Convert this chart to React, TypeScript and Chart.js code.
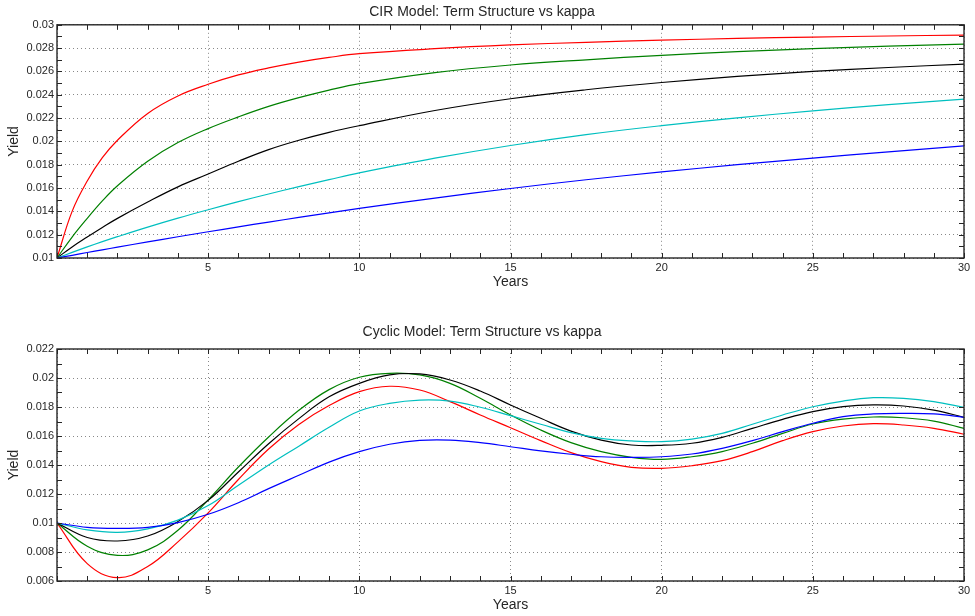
import React, { useEffect, useRef } from "react";
import { Chart, registerables } from "chart.js";

Chart.register(...registerables);

// ---------- Data ----------
const CIR_TITLE = "CIR Model: Term Structure vs kappa";
const CYC_TITLE = "Cyclic Model: Term Structure vs kappa";
const X_LABEL = "Years";
const Y_LABEL = "Yield";

const X_TICKS = [0, 5, 10, 15, 20, 25, 30];
const Y_TICKS_CIR = [0.01, 0.012, 0.014, 0.016, 0.018, 0.02, 0.022, 0.024, 0.026, 0.028, 0.03];
const Y_TICKS_CYC = [0.006, 0.008, 0.01, 0.012, 0.014, 0.016, 0.018, 0.02, 0.022];

const CIR_T = [0, 0.5, 1, 1.5, 2, 3, 4, 5, 6, 7, 8, 9, 10, 12.5, 15, 17.5, 20, 22.5, 25, 27.5, 30];
const CIR_RED = [0.01, 0.014, 0.0166, 0.0186, 0.0201, 0.0224, 0.0239, 0.0249, 0.0257, 0.0263, 0.0268, 0.0272, 0.02752, 0.02795, 0.02827, 0.0285, 0.02868, 0.02883, 0.02895, 0.02904, 0.02912];
const CIR_GREEN = [0.01, 0.0118, 0.0134, 0.0149, 0.0162, 0.0183, 0.0199, 0.0211, 0.0221, 0.023, 0.02375, 0.0244, 0.02495, 0.0259, 0.02655, 0.027, 0.02738, 0.0277, 0.02795, 0.02817, 0.02835];
const CIR_BLACK = [0.01, 0.01095, 0.0118, 0.01262, 0.0134, 0.0148, 0.0161, 0.0172, 0.0183, 0.0193, 0.0201, 0.02078, 0.02135, 0.02265, 0.02366, 0.02443, 0.02505, 0.02557, 0.026, 0.02634, 0.02663];
const CIR_CYAN = [0.01, 0.01048, 0.01095, 0.0114, 0.01183, 0.01265, 0.01342, 0.01414, 0.01483, 0.01549, 0.01612, 0.01672, 0.0173, 0.01856, 0.01965, 0.02058, 0.02135, 0.02202, 0.02262, 0.02315, 0.02363];
const CIR_BLUE = [0.01, 0.01023, 0.01047, 0.0107, 0.01093, 0.01138, 0.01182, 0.01225, 0.01267, 0.01308, 0.01348, 0.01387, 0.01425, 0.01514, 0.01596, 0.01671, 0.01738, 0.018, 0.01857, 0.0191, 0.01962];

const CYC_T = [0, 1, 2, 3, 4, 5, 6, 7, 8, 9, 10, 11, 12, 13, 14, 15, 16, 17, 18, 19, 20, 21, 22, 23, 24, 25, 26, 27, 28, 29, 30];
const CYC_RED = [0.01, 0.0072, 0.00623, 0.007, 0.0087, 0.0107, 0.013, 0.0151, 0.0168, 0.0181, 0.01906, 0.01943, 0.01917, 0.01837, 0.01745, 0.01657, 0.01568, 0.01485, 0.01423, 0.01384, 0.01377, 0.01395, 0.0143, 0.01492, 0.01568, 0.0163, 0.01669, 0.01685, 0.01676, 0.01653, 0.01612];
const CYC_GREEN = [0.01, 0.0084, 0.00777, 0.00815, 0.0095, 0.0116, 0.01386, 0.01593, 0.01777, 0.0192, 0.02005, 0.02032, 0.02021, 0.01963, 0.0186, 0.01745, 0.01641, 0.01554, 0.01492, 0.01453, 0.01439, 0.01457, 0.01492, 0.0155, 0.01618, 0.01683, 0.01717, 0.01731, 0.01726, 0.01703, 0.01653];
const CYC_BLACK = [0.01, 0.009, 0.00876, 0.0091, 0.0101, 0.01156, 0.01352, 0.01547, 0.0172, 0.0187, 0.01963, 0.02021, 0.02028, 0.01986, 0.0191, 0.01814, 0.01722, 0.01634, 0.01572, 0.01538, 0.01536, 0.0155, 0.01591, 0.01653, 0.01715, 0.01768, 0.01802, 0.01814, 0.01807, 0.01779, 0.01729];
const CYC_CYAN = [0.01, 0.00953, 0.00936, 0.0096, 0.0102, 0.0112, 0.0126, 0.014, 0.0153, 0.0166, 0.01772, 0.01825, 0.01848, 0.01841, 0.01798, 0.0174, 0.01681, 0.01623, 0.01584, 0.01566, 0.01561, 0.01579, 0.01618, 0.01681, 0.01745, 0.01802, 0.01841, 0.01864, 0.0186, 0.01837, 0.01798];
const CYC_BLUE = [0.01, 0.0097, 0.00963, 0.0097, 0.01003, 0.0106, 0.0114, 0.01237, 0.01329, 0.0142, 0.01492, 0.01543, 0.0157, 0.01572, 0.01554, 0.01526, 0.01497, 0.01474, 0.01457, 0.01453, 0.01457, 0.01476, 0.01515, 0.01568, 0.0163, 0.01688, 0.01733, 0.01752, 0.01756, 0.01752, 0.01729];

const COLORS = { blue: "#0000ff", cyan: "#00bfbf", black: "#000000", green: "#008000", red: "#ff0000" };
const AXIS_COLOR = "#262626";
const FONT = "'Liberation Sans', Arial, Helvetica, sans-serif";

// ---------- Helpers ----------
const pts = (t: number[], v: number[]) => t.map((x, i) => ({ x, y: v[i] }));

const fmt = (v: number) => String(+Number(v).toFixed(4));

const boxPlugin = {
  id: "matlabBox",
  afterDatasetsDraw(chart: any, _args: any, opts: any) {
    const { ctx, chartArea: a, scales } = chart;
    const x = scales.x;
    const y = scales.y;
    const len = 5;
    ctx.save();
    ctx.strokeStyle = AXIS_COLOR;
    ctx.lineWidth = 1;
    ctx.beginPath();
    const nx = Math.round((x.max - x.min) / opts.xStep);
    for (let i = 0; i <= nx; i++) {
      const px = Math.round(x.getPixelForValue(x.min + i * opts.xStep)) + 0.5;
      ctx.moveTo(px, a.bottom);
      ctx.lineTo(px, a.bottom - len);
      ctx.moveTo(px, a.top);
      ctx.lineTo(px, a.top + len);
    }
    const ny = Math.round((y.max - y.min) / opts.yStep);
    for (let i = 0; i <= ny; i++) {
      const py = Math.round(y.getPixelForValue(y.min + i * opts.yStep)) + 0.5;
      ctx.moveTo(a.left, py);
      ctx.lineTo(a.left + len, py);
      ctx.moveTo(a.right, py);
      ctx.lineTo(a.right - len, py);
    }
    ctx.stroke();
    ctx.lineWidth = 1.4;
    ctx.strokeRect(a.left, a.top, a.right - a.left, a.bottom - a.top);
    ctx.restore();
  },
};

function makeConfig(p: {
  title: string;
  t: number[];
  series: [string, number[]][];
  yTicks: number[];
  layoutTop: number;
  titlePadBottom: number;
  xAxisHeight: number;
  xTitlePadBottom: number;
}) {
  const yMin = p.yTicks[0];
  const yMax = p.yTicks[p.yTicks.length - 1];
  return {
    type: "line" as const,
    data: {
      datasets: p.series.map(([c, v]) => ({
        data: pts(p.t, v),
        borderColor: (COLORS as any)[c],
        backgroundColor: (COLORS as any)[c],
        borderWidth: 1.2,
        pointRadius: 0,
        fill: false,
        tension: 0.4,
      })),
    },
    options: {
      responsive: false,
      animation: false as const,
      devicePixelRatio: 1,
      layout: { padding: { top: p.layoutTop, left: 0, right: 11, bottom: 0 } },
      plugins: {
        legend: { display: false },
        tooltip: { enabled: false },
        title: {
          display: true,
          text: p.title,
          color: AXIS_COLOR,
          font: { family: FONT, size: 14, weight: "normal" as const },
          padding: { top: 4, bottom: p.titlePadBottom },
        },
        matlabBox: { xStep: 1, yStep: 0.001 },
      },
      scales: {
        x: {
          type: "linear" as const,
          min: X_TICKS[0],
          max: X_TICKS[X_TICKS.length - 1],
          afterBuildTicks: (s: any) => {
            s.ticks = X_TICKS.map((value) => ({ value }));
          },
          afterFit: (s: any) => {
            s.height = p.xAxisHeight;
          },
          ticks: {
            color: AXIS_COLOR,
            font: { family: FONT, size: 11 },
            padding: 3,
            maxRotation: 0,
            autoSkip: false,
            callback: (v: any) => (v === 0 ? "" : String(v)),
          },
          grid: { color: "rgba(38,38,38,0.55)", lineWidth: 1, drawTicks: false },
          border: { display: false, dash: [1, 3] },
          title: {
            display: true,
            text: X_LABEL,
            color: AXIS_COLOR,
            font: { family: FONT, size: 14 },
            padding: { top: 0, bottom: p.xTitlePadBottom },
          },
        },
        y: {
          type: "linear" as const,
          min: yMin,
          max: yMax,
          afterBuildTicks: (s: any) => {
            s.ticks = p.yTicks.map((value) => ({ value }));
          },
          afterFit: (s: any) => {
            s.width = 57;
          },
          ticks: {
            color: AXIS_COLOR,
            font: { family: FONT, size: 11 },
            padding: 3,
            autoSkip: false,
            callback: (v: any) => fmt(v),
          },
          grid: { color: "rgba(38,38,38,0.55)", lineWidth: 1, drawTicks: false },
          border: { display: false, dash: [1, 3] },
          title: {
            display: true,
            text: Y_LABEL,
            color: AXIS_COLOR,
            font: { family: FONT, size: 14 },
            padding: { top: 5.6, bottom: 0 },
          },
        },
      },
    },
    plugins: [boxPlugin],
  };
}

function ChartCanvas({ config }: { config: any }) {
  const ref = useRef<HTMLCanvasElement | null>(null);
  useEffect(() => {
    if (!ref.current) return;
    const chart = new Chart(ref.current, config);
    return () => chart.destroy();
  }, [config]);
  return <canvas ref={ref} width={975} height={308} style={{ display: "block", width: 975, height: 308 }} />;
}

const topConfig = makeConfig({
  title: CIR_TITLE,
  t: CIR_T,
  series: [
    ["blue", CIR_BLUE],
    ["cyan", CIR_CYAN],
    ["black", CIR_BLACK],
    ["green", CIR_GREEN],
    ["red", CIR_RED],
  ],
  yTicks: Y_TICKS_CIR,
  layoutTop: 0,
  titlePadBottom: 4,
  xAxisHeight: 50,
  xTitlePadBottom: 17.6,
});

const bottomConfig = makeConfig({
  title: CYC_TITLE,
  t: CYC_T,
  series: [
    ["blue", CYC_BLUE],
    ["cyan", CYC_CYAN],
    ["black", CYC_BLACK],
    ["green", CYC_GREEN],
    ["red", CYC_RED],
  ],
  yTicks: Y_TICKS_CYC,
  layoutTop: 11.6,
  titlePadBottom: 8.6,
  xAxisHeight: 35,
  xTitlePadBottom: 2.6,
});

export default function App() {
  return (
    <div style={{ position: "absolute", left: 0, top: 0, width: 975, height: 616, background: "#fff" }}>
      <ChartCanvas config={topConfig} />
      <ChartCanvas config={bottomConfig} />
    </div>
  );
}
